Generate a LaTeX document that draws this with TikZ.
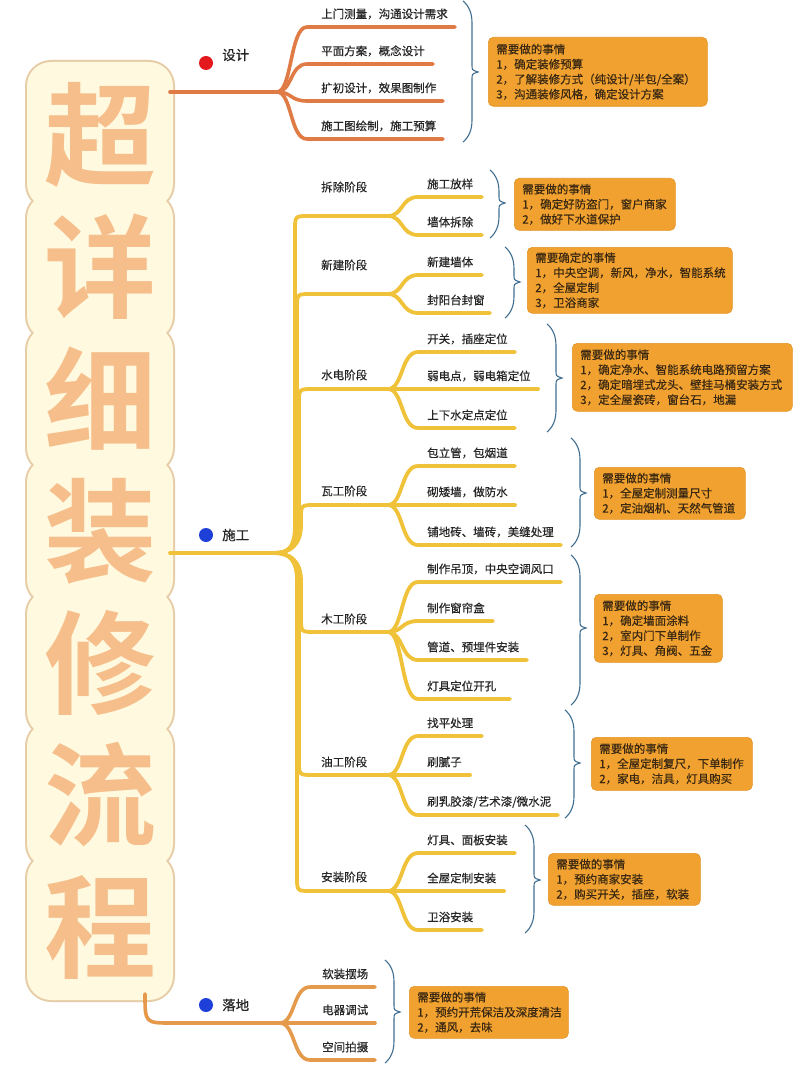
\documentclass[tikz,border=0pt]{standalone}
\usepackage{fontspec}
\setmainfont{Noto Sans CJK SC}[FakeBold=0.4]
\newfontfamily\titlefont{Noto Sans CJK SC Bold}
\usetikzlibrary{calc}
\definecolor{cdesign}{HTML}{E07B45}
\definecolor{cbuild}{HTML}{F0C23A}
\definecolor{cland}{HTML}{E5994A}
\definecolor{cbox}{HTML}{F0A12F}
\definecolor{cboxd}{HTML}{E39323}
\definecolor{boxtxt}{HTML}{3A2812}
\definecolor{txt}{HTML}{262626}
\definecolor{cbrace}{HTML}{3F6E90}
\definecolor{ctitle}{HTML}{F5BE8B}
\definecolor{ccream}{HTML}{FFF9DF}
\definecolor{ctan}{HTML}{E6CDA8}
\definecolor{cred}{HTML}{E3191E}
\definecolor{cblue}{HTML}{1E40D8}
\tikzset{
  leaf/.style={inner sep=0pt, anchor=west, text=txt, font=\fontsize{11.5}{14}\selectfont},
  toplab/.style={inner sep=0pt, anchor=west, text=txt, font=\fontsize{13.5}{16}\selectfont},
  dline/.style={draw=cdesign, line width=3.6pt, line cap=round},
  cline/.style={draw=cbuild, line width=3.8pt, line cap=round},
  lline/.style={draw=cland, line width=3.6pt, line cap=round},
  bracest/.style={draw=cbrace, line width=1.1pt},
  infobox/.style={fill=cbox, draw=cboxd, line width=0.6pt, rounded corners=5pt, anchor=north west,
    inner xsep=8pt, inner ysep=0pt, align=left, text=boxtxt, font=\fontsize{11.5}{15}\selectfont},
  titlech/.style={inner sep=0pt, text=ctitle, font=\titlefont\fontsize{112}{112}\selectfont},
  dotnode/.style={circle, inner sep=0pt, minimum size=14pt},
}
% #1 style, #2 name, #3 fork x, #4 fork y, #5 child y, #6 end x, #7 label x, #8 text
\newcommand\mmleaf[8]{%
  \coordinate (#2-f) at (#3,#4);
  \coordinate (#2-e) at (#6,#5);
  \node[leaf] (#2) at ({#7},{#5-13}) {#8};
  \draw[#1] (#2-f) .. controls ({#3+15},{#4}) and ({#3+13},{#5}) .. ({#3+30},{#5}) -- (#2-e);
}
% #1 name, #2 stage line y, #3 trunk x, #4 label y, #5 text, #6 direction
\newcommand\mmstage[6]{%
  \coordinate (#1-f) at (388,#2);
  \node[leaf] (#1) at (321,#4) {#5};
  \draw[cline] (c-split) .. controls (290,553) and ({#3},{553+8*#6}) .. ({#3},{553+28*#6}) -- ({#3},{#2-14*#6}) .. controls ({#3},{#2}) .. ({#3+14},{#2}) -- (#1-f);
}
% #1 x, #2 y top, #3 y bottom, #4 y tip
\newcommand\mmbrace[4]{%
  \draw[bracest] (#1,#2) .. controls ({#1+6},{#2+5}) and ({#1+9},{#2+12}) .. ({#1+9},{#2+22}) -- ({#1+9},{#4-7}) .. controls ({#1+9},{#4-2}) .. ({#1+15},{#4}) .. controls ({#1+9},{#4+2}) .. ({#1+9},{#4+7}) -- ({#1+9},{#3-22}) .. controls ({#1+9},{#3-12}) and ({#1+6},{#3-5}) .. (#1,#3);
}
\begin{document}
\begin{tikzpicture}[x=1pt, y=-1pt]
\useasboundingbox (0,0) rectangle (800,1067);
\fill[white] (0,0) rectangle (800,1067);
% title background
\foreach \i in {0,...,6}{
  \draw[ctan, line width=4pt, rounded corners=24pt] (27,{135+132*\i-73}) rectangle (173,{135+132*\i+73});
}
\foreach \i in {0,...,6}{
  \fill[ccream, rounded corners=24pt] (27,{135+132*\i-73}) rectangle (173,{135+132*\i+73});
}
\node[titlech] (t1) at (100,135) {超};
\node[titlech] (t2) at (100,267) {详};
\node[titlech] (t3) at (100,399) {细};
\node[titlech] (t4) at (100,531) {装};
\node[titlech] (t5) at (100,663) {修};
\node[titlech] (t6) at (100,795) {流};
\node[titlech] (t7) at (100,927) {程};

% ===== 设计 =====
\coordinate (d-root) at (170,92);
\coordinate (d-fork) at (277,92);
\draw[dline] (d-root) -- (d-fork);
\node[dotnode, fill=cred] (d-dot) at (206,63) {};
\node[toplab] (d-lab) at (222,55) {设计};
\mmleaf{dline}{d1}{277}{92}{27}{455}{321}{上门测量，沟通设计需求}
\mmleaf{dline}{d2}{277}{92}{64}{433}{321}{平面方案，概念设计}
\mmleaf{dline}{d3}{277}{92}{101}{443}{321}{扩初设计，效果图制作}
\mmleaf{dline}{d4}{277}{92}{139}{443}{321}{施工图绘制，施工预算}
\mmbrace{463}{1}{142}{72}
\node[infobox, text width=203pt, minimum height=69pt] (b0) at (488,37)
  {需要做的事情\\1，确定装修预算\\2，了解装修方式（纯设计/半包/全案）\\3，沟通装修风格，确定设计方案};

% ===== 施工 =====
\coordinate (c-root) at (170,553);
\coordinate (c-split) at (275,553);
\node[dotnode, fill=cblue] (c-dot) at (206,535) {};
\node[toplab] (c-lab) at (222,535) {施工};
\mmstage{s1}{216}{295}{187}{拆除阶段}{-1}
\mmstage{s2}{294}{297}{265}{新建阶段}{-1}
\mmstage{s3}{389}{299}{375}{水电阶段}{-1}
\mmstage{s4}{505}{301}{491}{瓦工阶段}{-1}
\mmstage{s5}{632}{301}{619}{木工阶段}{1}
\mmstage{s6}{775}{299}{762}{油工阶段}{1}
\mmstage{s7}{891}{297}{877}{安装阶段}{1}
\draw[cline] (c-root) -- (c-split);
% 拆除
\mmleaf{cline}{a1}{388}{216}{197}{482}{427}{施工放样}
\mmleaf{cline}{a2}{388}{216}{235}{482}{427}{墙体拆除}
\mmbrace{490}{170}{238}{203}
\node[infobox, text width=145pt, minimum height=52pt] (b1) at (514,178)
  {需要做的事情\\1，确定好防盗门，窗户商家\\2，做好下水道保护};
% 新建
\mmleaf{cline}{n1}{388}{294}{275}{482}{427}{新建墙体}
\mmleaf{cline}{n2}{388}{294}{313}{490}{427}{封阳台封窗}
\mmbrace{505}{247}{318}{282}
\node[infobox, text width=189pt, minimum height=66pt] (b2) at (527,247)
  {需要确定的事情\\1，中央空调，新风，净水，智能系统\\2，全屋定制\\3，卫浴商家};
% 水电
\mmleaf{cline}{w1}{388}{389}{352}{515}{427}{开关，插座定位}
\mmleaf{cline}{w2}{388}{389}{389}{538}{427}{弱电点，弱电箱定位}
\mmleaf{cline}{w3}{388}{389}{428}{515}{427}{上下水定点定位}
\mmbrace{547}{324}{432}{378}
\node[infobox, text width=204pt, minimum height=68pt] (b3) at (572,343)
  {需要做的事情\\1，确定净水、智能系统电路预留方案\\2，确定暗埋式龙头、壁挂马桶安装方式\\3，定全屋瓷砖，窗台石，地漏};
% 瓦工
\mmleaf{cline}{v1}{388}{505}{466}{515}{427}{包立管，包烟道}
\mmleaf{cline}{v2}{388}{505}{505}{515}{427}{砌矮墙，做防水}
\mmleaf{cline}{v3}{388}{505}{545}{561}{427}{铺地砖、墙砖，美缝处理}
\mmbrace{571}{438}{547}{493}
\node[infobox, text width=135pt, minimum height=52pt] (b4) at (594,467)
  {需要做的事情\\1，全屋定制测量尺寸\\2，定油烟机、天然气管道};
% 木工
\mmleaf{cline}{m1}{388}{632}{582}{561}{427}{制作吊顶，中央空调风口}
\mmleaf{cline}{m2}{388}{632}{621}{493}{427}{制作窗帘盒}
\mmleaf{cline}{m3}{388}{632}{660}{527}{427}{管道、预埋件安装}
\mmleaf{cline}{m4}{388}{632}{699}{510}{427}{灯具定位开孔}
\mmbrace{571}{555}{705}{628}
\node[infobox, text width=112pt, minimum height=68pt] (b5) at (594,594)
  {需要做的事情\\1，确定墙面涂料\\2，室内门下单制作\\3，灯具、角阀、五金};
% 油工
\mmleaf{cline}{o1}{388}{775}{736}{482}{427}{找平处理}
\mmleaf{cline}{o2}{388}{775}{775}{470}{427}{刷腻子}
\mmleaf{cline}{o3}{388}{775}{815}{558}{427}{刷乳胶漆/艺术漆/微水泥}
\mmbrace{565}{710}{818}{763}
\node[infobox, text width=145pt, minimum height=53pt] (b6) at (591,737)
  {需要做的事情\\1，全屋定制复尺，下单制作\\2，家电，洁具，灯具购买};
% 安装
\mmleaf{cline}{i1}{388}{891}{853}{515}{427}{灯具、面板安装}
\mmleaf{cline}{i2}{388}{891}{891}{504}{427}{全屋定制安装}
\mmleaf{cline}{i3}{388}{891}{930}{482}{427}{卫浴安装}
\mmbrace{525}{825}{933}{880}
\node[infobox, text width=136pt, minimum height=52pt] (b7) at (548,853)
  {需要做的事情\\1，预约商家安装\\2，购买开关，插座，软装};

% ===== 落地 =====
\coordinate (l-root) at (145,994);
\coordinate (l-fork) at (280,1023);
\draw[lline] (l-root) .. controls (145,1023) .. (172,1023) -- (l-fork);
\node[dotnode, fill=cblue] (l-dot) at (206,1005) {};
\node[toplab] (l-lab) at (222,1005) {落地};
\mmleaf{lline}{g1}{280}{1023}{987}{375}{322}{软装摆场}
\mmleaf{lline}{g2}{280}{1023}{1023}{375}{322}{电器调试}
\mmleaf{lline}{g3}{280}{1023}{1060}{375}{322}{空间拍摄}
\mmbrace{385}{960}{1063}{1012}
\node[infobox, text width=143pt, minimum height=52pt] (b8) at (409,986)
  {需要做的事情\\1，预约开荒保洁及深度清洁\\2，通风，去味};
\end{tikzpicture}
\end{document}
